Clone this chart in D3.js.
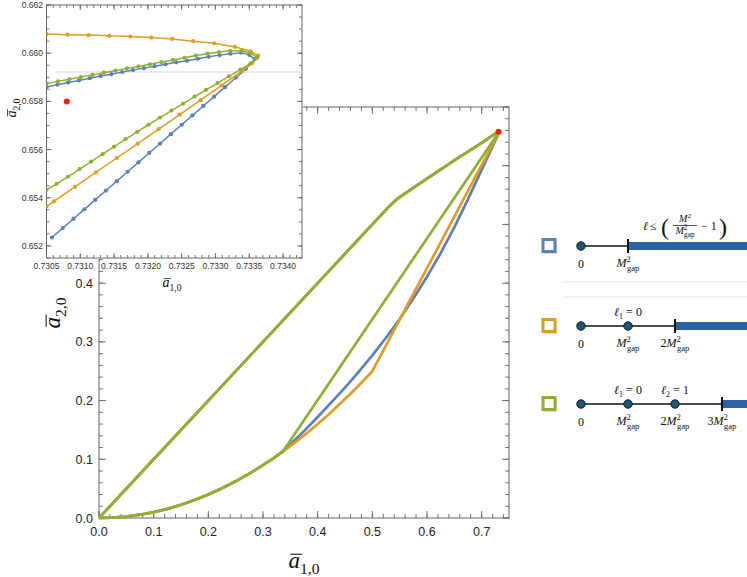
<!DOCTYPE html>
<html lang="en">
<head>
<meta charset="UTF-8">
<title>a10 vs a20 bounds</title>
<script src="https://d3js.org/d3.v7.min.js"></script>
<style>
  body { margin: 0; background: #fff; }
  svg { display: block; }
</style>
</head>
<body>
<script>
// ---- main chart data ----
// upper edge (shared by all three series)
const upperX = [0, 0.1, 0.2, 0.3, 0.4, 0.5, 0.53, 0.545, 0.56, 0.6, 0.65, 0.7, 0.7336];
const upperY = [0, 0.1, 0.2, 0.3, 0.4, 0.5, 0.53, 0.543, 0.553, 0.578, 0.609, 0.639, 0.66];
// lower edge start (shared)
const lowStartX = [0, 0.025, 0.05, 0.075, 0.1, 0.125, 0.15, 0.175, 0.2, 0.225, 0.25, 0.275, 0.3, 0.32, 0.336];
const lowStartY = [0, 0.0006, 0.0025, 0.0056, 0.01, 0.0156, 0.0225, 0.0306, 0.04, 0.0506, 0.0625, 0.0756, 0.09, 0.1024, 0.113];
// lower edge continuation per series
const blueLowX = [0.35, 0.375, 0.4, 0.425, 0.45, 0.475, 0.5, 0.525, 0.55, 0.575, 0.6, 0.625, 0.65, 0.675, 0.7, 0.7336];
const blueLowY = [0.1255, 0.148, 0.172, 0.197, 0.222, 0.249, 0.277, 0.307, 0.339, 0.374, 0.411, 0.451, 0.495, 0.543, 0.593, 0.66];
const orangeLowX = [0.36, 0.38, 0.4, 0.42, 0.44, 0.46, 0.48, 0.5, 0.7336];
const orangeLowY = [0.1296, 0.1444, 0.16, 0.1764, 0.1936, 0.2116, 0.2304, 0.25, 0.66];
const greenLowX = [0.7336];
const greenLowY = [0.66];

const redX = [0.7308];
const redY = [0.658];

// ---- inset data ----
const blueInX = [0.73050,0.73066,0.73082,0.73098,0.73114,0.73130,0.73146,0.73162,0.73178,0.73194,0.73210,0.73226,0.73242,0.73258,0.73274,0.73290,0.73306,0.73322,0.73338,0.73350,0.73358,
  0.73345,0.73330,0.73314,0.73298,0.73282,0.73266,0.73250,0.73234,0.73218,0.73202,0.73186,0.73170,0.73154,0.73138,0.73122,0.73106,0.73090,0.73074,0.73058];
const blueInY = [0.65860,0.65869,0.65878,0.65887,0.65896,0.65905,0.65913,0.65922,0.65930,0.65938,0.65946,0.65954,0.65962,0.65969,0.65977,0.65985,0.65992,0.65998,0.66002,0.65993,0.65975,
  0.65935,0.65898,0.65859,0.65820,0.65781,0.65742,0.65703,0.65664,0.65625,0.65586,0.65547,0.65508,0.65469,0.65430,0.65391,0.65352,0.65313,0.65274,0.65235];
const orangeInX = [0.73050,0.73081,0.73112,0.73143,0.73174,0.73205,0.73236,0.73267,0.73298,0.73329,0.73352,0.73363,
  0.73355,0.73340,0.73309,0.73278,0.73247,0.73216,0.73185,0.73154,0.73123,0.73092,0.73061,0.73050];
const orangeInY = [0.66080,0.66077,0.66075,0.66072,0.66069,0.66065,0.66059,0.66050,0.66041,0.66026,0.66008,0.65990,
  0.65960,0.65928,0.65866,0.65805,0.65745,0.65685,0.65625,0.65565,0.65505,0.65445,0.65385,0.65364];
const greenInX = [0.73050,0.73067,0.73084,0.73101,0.73118,0.73135,0.73152,0.73169,0.73186,0.73203,0.73220,0.73237,0.73254,0.73271,0.73288,0.73305,0.73322,0.73339,0.73352,0.73362,
  0.73352,0.73337,0.73320,0.73303,0.73286,0.73269,0.73252,0.73235,0.73218,0.73201,0.73184,0.73167,0.73150,0.73133,0.73116,0.73099,0.73082,0.73065,0.73050];
const greenInY = [0.65874,0.65883,0.65892,0.65901,0.65910,0.65919,0.65928,0.65937,0.65945,0.65954,0.65963,0.65972,0.65981,0.65990,0.65998,0.66005,0.66010,0.66010,0.66000,0.65982,
  0.65958,0.65932,0.65904,0.65876,0.65848,0.65820,0.65791,0.65762,0.65733,0.65703,0.65673,0.65643,0.65612,0.65581,0.65550,0.65519,0.65488,0.65458,0.65433];
const refLineX = [0.73063, 0.73428];
const refLineY = [0.65922, 0.65922];

// ---- legend data ----
const legendColors = ["#5e81b5", "#e19c24", "#8fb032"];
const legendDots = [[0], [0, 1], [0, 1, 2]];
const legendCut = [1, 2, 3];
const legendAbove = [[], [[1, "1", "0"]], [[1, "1", "0"], [2, "2", "1"]]];

const colors = { blue: "#5e81b5", orange: "#e19c24", green: "#8fb032", red: "#ff1a1a" };
const zip = (xs, ys) => xs.map((v, i) => [v, ys[i]]);

const svg = d3.select("body").append("svg").attr("width", 747).attr("height", 577);

function drawFrame(g, sx, sy, xMaj, xMin, yMaj, yMin, majLen, minLen, col) {
  const [xl, xr] = sx.range(), [yb, yt] = sy.range();
  const segs = [];
  const addX = (v, len) => { segs.push([sx(v), yb, sx(v), yb - len], [sx(v), yt, sx(v), yt + len]); };
  const addY = (v, len) => { segs.push([xl, sy(v), xl + len, sy(v)], [xr, sy(v), xr - len, sy(v)]); };
  xMin.forEach(v => addX(v, minLen)); xMaj.forEach(v => addX(v, majLen));
  yMin.forEach(v => addY(v, minLen)); yMaj.forEach(v => addY(v, majLen));
  g.append("g").selectAll("line").data(segs).join("line")
    .attr("x1", d => d[0]).attr("y1", d => d[1]).attr("x2", d => d[2]).attr("y2", d => d[3])
    .attr("stroke", col).attr("stroke-width", 0.9);
  g.append("rect").attr("x", xl).attr("y", yt).attr("width", xr - xl).attr("height", yb - yt)
    .attr("fill", "none").attr("stroke", col).attr("stroke-width", 1);
}

// "a-bar" with subscript, centred on (x, y) baseline
function mathLabel(g, x, y, sub, size, rot) {
  const grp = g.append("g").attr("transform", `translate(${x},${y}) rotate(${rot})`);
  const t = grp.append("text").style("font-family", "'Liberation Serif', serif")
    .style("font-size", size + "px").attr("fill", "#111");
  t.append("tspan").style("font-style", "italic").text("a");
  t.append("tspan").attr("dy", size * 0.28).style("font-size", (size * 0.68) + "px").text(sub);
  const len = t.node().getComputedTextLength();
  const aw = t.node().getSubStringLength(0, 1);
  t.attr("x", -len / 2);
  grp.append("line").attr("x1", -len / 2 + size * 0.08).attr("x2", -len / 2 + aw + size * 0.1)
    .attr("y1", -size * 0.6).attr("y2", -size * 0.6).attr("stroke", "#111").attr("stroke-width", Math.max(0.8, size * 0.045));
}

// ---------- main chart ----------
const x = d3.scaleLinear().domain([0, 0.75]).range([99, 509]);
const y = d3.scaleLinear().domain([0, 0.70]).range([518, 107]);
const main = svg.append("g");
const frameCol = "#666";

drawFrame(main, x, y,
  d3.range(0, 8).map(i => i * 0.1), d3.range(0, 38).map(i => i * 0.02),
  d3.range(0, 8).map(i => i * 0.1), d3.range(0, 36).map(i => i * 0.02), 7, 4, frameCol);

main.append("g").selectAll("text").data(d3.range(0, 8).map(i => i * 0.1)).join("text")
  .attr("x", d => x(d)).attr("y", 536).attr("text-anchor", "middle")
  .style("font-family", "'Liberation Sans', Arial, sans-serif").style("font-size", "12.5px").attr("fill", "#222")
  .text(d3.format(".1f"));
main.append("g").selectAll("text").data(d3.range(0, 8).map(i => i * 0.1)).join("text")
  .attr("x", 93).attr("y", d => y(d)).attr("dy", "0.36em").attr("text-anchor", "end")
  .style("font-family", "'Liberation Sans', Arial, sans-serif").style("font-size", "12.5px").attr("fill", "#222")
  .text(d3.format(".1f"));

mathLabel(main, 304, 568, "1,0", 23, 0);
mathLabel(main, 60, 313, "2,0", 23, -90);

const line = d3.line().x(d => x(d[0])).y(d => y(d[1]));
const upper = zip(upperX, upperY);
const lowStart = zip(lowStartX, lowStartY);
const mainSeries = [
  [colors.blue, lowStart.concat(zip(blueLowX, blueLowY))],
  [colors.orange, lowStart.concat(zip(orangeLowX, orangeLowY))],
  [colors.green, lowStart.concat(zip(greenLowX, greenLowY))]
];
mainSeries.forEach(([c, low]) => {
  main.append("path").attr("d", line(upper)).attr("fill", "none").attr("stroke", c)
    .attr("stroke-width", 2.7).attr("stroke-linejoin", "round");
  main.append("path").attr("d", line(low)).attr("fill", "none").attr("stroke", c)
    .attr("stroke-width", 2.7).attr("stroke-linejoin", "round");
});
main.selectAll("circle.red").data(zip(redX, redY)).join("circle").attr("class", "red")
  .attr("cx", d => x(d[0])).attr("cy", d => y(d[1])).attr("r", 3).attr("fill", colors.red);

// ---------- inset ----------
const ix = d3.scaleLinear().domain([0.7305, 0.73428]).range([46.5, 302]);
const iy = d3.scaleLinear().domain([0.6515, 0.662]).range([258, 5]);
const inset = svg.append("g");
inset.append("rect").attr("x", 0).attr("y", 0).attr("width", 303).attr("height", 259).attr("fill", "#fff");

svg.append("clipPath").attr("id", "insetClip").append("rect")
  .attr("x", 46.5).attr("y", 5).attr("width", 302 - 46.5).attr("height", 253);

drawFrame(inset, ix, iy,
  d3.range(0, 8).map(i => 0.7305 + i * 0.0005), d3.range(0, 38).map(i => 0.7305 + i * 0.0001),
  d3.range(0, 6).map(i => 0.652 + i * 0.002), d3.range(0, 22).map(i => 0.6515 + i * 0.0005), 5, 3, frameCol);

inset.append("g").selectAll("text").data(d3.range(0, 8).map(i => 0.7305 + i * 0.0005)).join("text")
  .attr("x", d => ix(d)).attr("y", 269).attr("text-anchor", "middle")
  .style("font-family", "'Liberation Sans', Arial, sans-serif").style("font-size", "8.5px").attr("fill", "#333")
  .text(d3.format(".4f"));
inset.append("g").selectAll("text").data(d3.range(0, 6).map(i => 0.652 + i * 0.002)).join("text")
  .attr("x", 43).attr("y", d => iy(d)).attr("dy", "0.36em").attr("text-anchor", "end")
  .style("font-family", "'Liberation Sans', Arial, sans-serif").style("font-size", "8.5px").attr("fill", "#333")
  .text(d3.format(".3f"));

mathLabel(inset, 172, 287, "1,0", 14, 0);
mathLabel(inset, 16, 108, "2,0", 14, -90);

const plot = inset.append("g").attr("clip-path", "url(#insetClip)");
const iline = d3.line().x(d => ix(d[0])).y(d => iy(d[1]));
plot.append("path").attr("d", iline(zip(refLineX, refLineY))).attr("stroke", "#d9d9d9").attr("stroke-width", 1).attr("fill", "none");

[[colors.blue, blueInX, blueInY], [colors.orange, orangeInX, orangeInY], [colors.green, greenInX, greenInY]]
  .forEach(([c, xs, ys]) => {
    const pts = zip(xs, ys);
    plot.append("path").attr("d", iline(pts)).attr("fill", "none").attr("stroke", c).attr("stroke-width", 1.5);
    plot.append("g").selectAll("circle").data(pts).join("circle")
      .attr("cx", d => ix(d[0])).attr("cy", d => iy(d[1])).attr("r", 2.1).attr("fill", c);
  });
plot.selectAll("circle.red").data(zip(redX, redY)).join("circle").attr("class", "red")
  .attr("cx", d => ix(d[0])).attr("cy", d => iy(d[1])).attr("r", 3).attr("fill", colors.red);

// ---------- legend ----------
const lx = d3.scaleLinear().domain([0, 3]).range([581, 722]);
const rowY = [246, 326, 404];
const leg = svg.append("g").style("font-family", "'Liberation Serif', serif").attr("fill", "#111");

leg.selectAll("line.sep").data([282, 297]).join("line").attr("class", "sep")
  .attr("x1", 563).attr("x2", 747).attr("y1", d => d).attr("y2", d => d)
  .attr("stroke", "#e6e6e6").attr("stroke-width", 1);

function mgapLabel(g, cx, cy, prefix, size) {
  const t = g.append("text").attr("x", cx).attr("y", cy).attr("text-anchor", "middle").style("font-size", size + "px");
  if (prefix) t.append("tspan").text(prefix);
  t.append("tspan").style("font-style", "italic").text("M");
  t.append("tspan").attr("dy", -size * 0.45).style("font-size", (size * 0.72) + "px").text("2");
  t.append("tspan").attr("dx", -size * 0.33).attr("dy", size * 0.78).style("font-size", (size * 0.72) + "px").text("gap");
  return t;
}

legendColors.forEach((c, r) => {
  const cy = rowY[r];
  const g = leg.append("g");
  // swatch
  g.append("rect").attr("x", 544).attr("y", cy - 5).attr("width", 13).attr("height", 13).attr("fill", "#d8d8d8");
  g.append("rect").attr("x", 543).attr("y", cy - 6.5).attr("width", 12).attr("height", 12)
    .attr("fill", "#fff").attr("stroke", c).attr("stroke-width", 3);
  // number line
  const cut = legendCut[r];
  g.append("rect").attr("x", lx(cut)).attr("y", cy - 4).attr("width", 747 - lx(cut)).attr("height", 8).attr("fill", "#2c62a4");
  g.append("line").attr("x1", lx(0)).attr("x2", lx(cut)).attr("y1", cy).attr("y2", cy).attr("stroke", "#111").attr("stroke-width", 1.5);
  g.append("line").attr("x1", lx(cut)).attr("x2", lx(cut)).attr("y1", cy - 7).attr("y2", cy + 7).attr("stroke", "#111").attr("stroke-width", 2);
  g.selectAll("circle").data(legendDots[r]).join("circle")
    .attr("cx", d => lx(d)).attr("cy", cy).attr("r", 4.2).attr("fill", "#1c5877").attr("stroke", "#0a1a24").attr("stroke-width", 1);
  // tick names
  d3.range(0, cut + 1).forEach(k => {
    if (k === 0) g.append("text").attr("x", lx(0)).attr("y", cy + 22).attr("text-anchor", "middle").style("font-size", "12px").text("0");
    else mgapLabel(g, lx(k), cy + 21, k > 1 ? String(k) : "", 12);
  });
  // labels above
  legendAbove[r].forEach(([pos, idx, val]) => {
    const t = g.append("text").attr("x", lx(pos)).attr("y", cy - 10).attr("text-anchor", "middle").style("font-size", "12px");
    t.append("tspan").style("font-style", "italic").text("ℓ");
    t.append("tspan").attr("dy", 2.5).style("font-size", "8px").text(idx);
    t.append("tspan").attr("dy", -2.5).text(" = " + val);
  });
});

// row 1 condition: l <= (M^2/M^2_gap - 1)
const f = leg.append("g");
f.append("text").attr("x", 643).attr("y", 230).style("font-size", "12px").style("font-style", "italic").text("ℓ");
f.append("text").attr("x", 650).attr("y", 230).style("font-size", "12px").text("≤");
f.append("text").attr("x", 661).attr("y", 235).style("font-size", "24px").text("(");
f.append("text").attr("x", 685).attr("y", 222).attr("text-anchor", "middle").style("font-size", "10px")
  .call(t => { t.append("tspan").style("font-style", "italic").text("M"); t.append("tspan").attr("dy", -4).style("font-size", "7px").text("2"); });
f.append("line").attr("x1", 673).attr("x2", 697).attr("y1", 225.5).attr("y2", 225.5).attr("stroke", "#111").attr("stroke-width", 0.7);
mgapLabel(f, 685, 234, "", 10);
f.append("text").attr("x", 701).attr("y", 229.5).style("font-size", "12px").text("− 1");
f.append("text").attr("x", 719).attr("y", 235).style("font-size", "24px").text(")");
</script>
</body>
</html>
